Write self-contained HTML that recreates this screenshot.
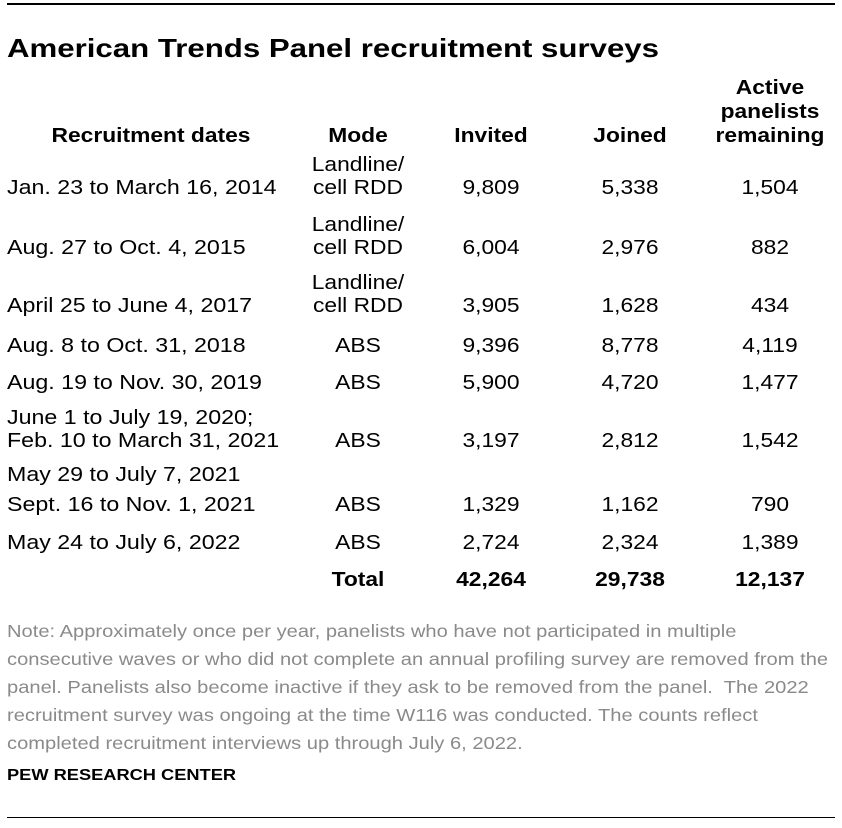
<!DOCTYPE html>
<html><head><meta charset="utf-8"><style>
body{margin:0;width:842px;height:828px;background:#fff;position:relative;font-family:"Liberation Sans",Arial,sans-serif;color:#000;overflow:hidden}
.t{position:absolute;white-space:nowrap;line-height:24px;font-size:20px;transform:scaleX(1.16);transform-origin:left center}
.c{transform:translateX(-50%) scaleX(1.14);transform-origin:center center;text-align:center}
.b{font-weight:bold}
.rule{position:absolute;left:7px;width:828px;height:2px;background:#000}
.note{position:absolute;left:7px;top:617px;white-space:nowrap;font-size:17.5px;line-height:28px;color:#8a8a8a;transform:scaleX(1.15);transform-origin:left top}
</style></head><body>
<div class="rule" style="top:3px"></div>
<div class="t b" style="left:7px;top:32px;font-size:26px;line-height:32px;transform:scaleX(1.2)">American Trends Panel recruitment surveys</div>

<div class="t b c" style="left:151px;top:124px">Recruitment dates</div>
<div class="t b c" style="left:358px;top:124px">Mode</div>
<div class="t b c" style="left:491px;top:124px">Invited</div>
<div class="t b c" style="left:630px;top:124px">Joined</div>
<div class="t b c" style="left:770px;top:76px">Active<br>panelists<br>remaining</div>

<div id="rows"></div>

<div class="note">Note: Approximately once per year, panelists who have not participated in multiple<br>consecutive waves or who did not complete an annual profiling survey are removed from the<br>panel. Panelists also become inactive if they ask to be removed from the panel.&nbsp; The 2022<br>recruitment survey was ongoing at the time W116 was conducted. The counts reflect<br>completed recruitment interviews up through July 6, 2022.</div>
<div class="t b" style="left:7px;top:764px;font-size:16px;transform:scaleX(1.14)">PEW RESEARCH CENTER</div>
<div class="rule" style="top:817px;height:1px"></div>

<script>
const dates=[["Jan. 23 to March 16, 2014"],["Aug. 27 to Oct. 4, 2015"],["April 25 to June 4, 2017"],["Aug. 8 to Oct. 31, 2018"],["Aug. 19 to Nov. 30, 2019"],["June 1 to July 19, 2020;","Feb. 10 to March 31, 2021"],["May 29 to July 7, 2021","Sept. 16 to Nov. 1, 2021"],["May 24 to July 6, 2022"]];
const modes=["Landline/|cell RDD","Landline/|cell RDD","Landline/|cell RDD","ABS","ABS","ABS","ABS","ABS"];
const invited=["9,809","6,004","3,905","9,396","5,900","3,197","1,329","2,724"];
const joined=["5,338","2,976","1,628","8,778","4,720","2,812","1,162","2,324"];
const active=["1,504","882","434","4,119","1,477","1,542","790","1,389"];
const totals=["42,264","29,738","12,137"];
const rowY=[188,248,306,346,383,441,505,543];
const root=document.getElementById('rows');
function add(text,x,y,cls,name){
  const d=document.createElement('div');
  d.className='t '+cls;
  d.style.left=x+'px';d.style.top=(y-12)+'px';
  d.innerHTML=text;
  
  
  root.appendChild(d);
}
dates.forEach((d,i)=>{
  const y=rowY[i];
  if(d.length===1) add(d[0],7,y,'','date-cell');
  else if(i===5){add(d[0],7,y-23,'','date-cell');add(d[1],7,y,'','date-cell');}
  else {add(d[0],7,y-30,'','date-cell');add(d[1],7,y,'','date-cell');}
  const m=modes[i].split('|');
  if(m.length===2){add(m[0],358,y-23,'c','mode-cell');add(m[1],358,y,'c','mode-cell');}
  else add(m[0],358,y,'c','mode-cell');
  add(invited[i],491,y,'c','invited-cell');
  add(joined[i],630,y,'c','joined-cell');
  add(active[i],770,y,'c','active-cell');
});
add('Total',358,580,'c b','total-label');
add(totals[0],491,580,'c b','total-invited');
add(totals[1],630,580,'c b','total-joined');
add(totals[2],770,580,'c b','total-active');
</script>
</body></html>
